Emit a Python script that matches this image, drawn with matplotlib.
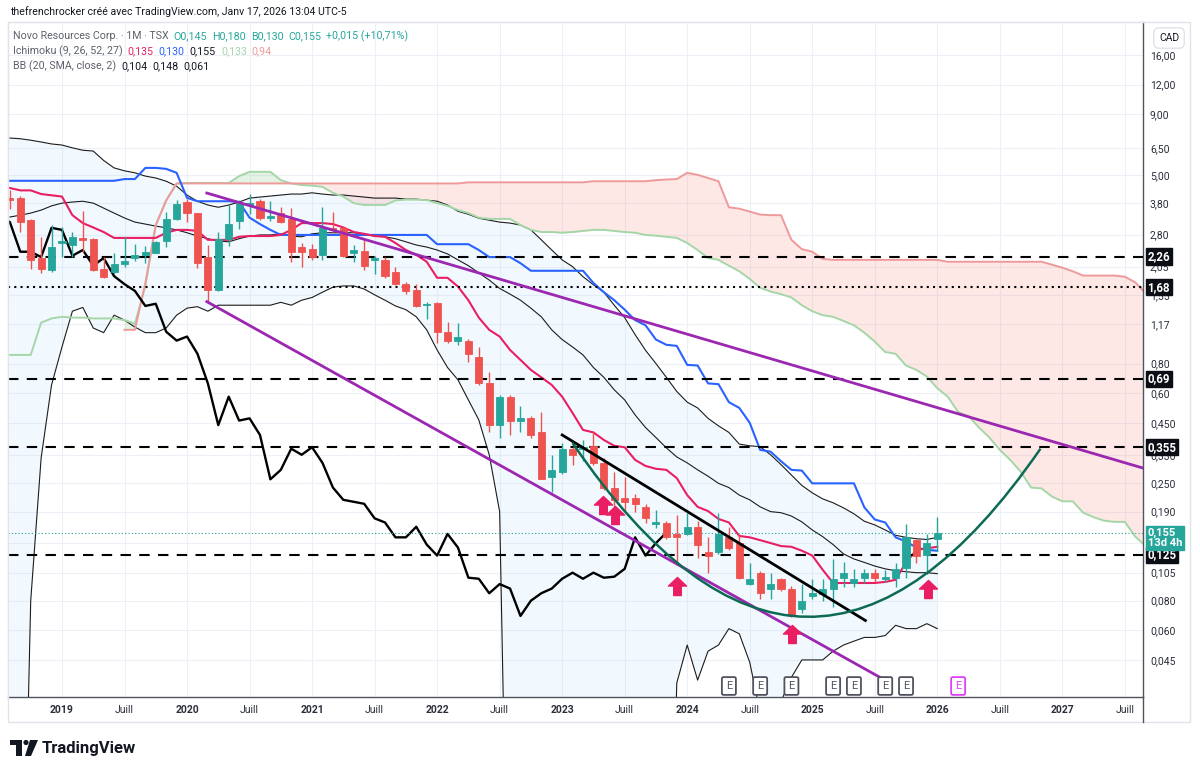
import numpy as np
import matplotlib
matplotlib.use("Agg")
import matplotlib.pyplot as plt
from matplotlib.path import Path
from matplotlib.patches import PathPatch, Rectangle, Polygon, Circle
from matplotlib.lines import Line2D
from matplotlib.ticker import NullLocator, NullFormatter
from matplotlib.transforms import IdentityTransform, blended_transform_factory

plt.rcParams['font.family'] = ['Roboto', 'DejaVu Sans']

# month index: 0 = Jan 2019, candles Aug 2018 .. Jan 2026
first_month = -5
opens = [3.98, 3.98, 3.22, 2.23, 1.98,
         2.58, 2.54, 2.72, 2.69, 2.01, 1.94, 2.10, 2.23, 2.30, 2.35, 2.64, 3.25,
         3.83, 3.44, 2.25, 1.64, 2.69, 3.19, 3.73, 3.87, 3.30, 3.44, 3.25, 2.48,
         2.43, 2.30, 2.99, 2.99, 2.35, 2.39, 2.19, 2.19, 1.94, 1.73, 1.64, 1.41,
         1.44, 1.09, 1.00, 1.00, 0.85, 0.66, 0.44, 0.58, 0.46, 0.47, 0.41, 0.265,
         0.28, 0.35, 0.35, 0.36, 0.305, 0.24, 0.216, 0.216, 0.199, 0.169, 0.17, 0.153,
         0.153, 0.164, 0.128, 0.128, 0.148, 0.14, 0.094, 0.105, 0.09, 0.099, 0.09, 0.074,
         0.084, 0.085, 0.09, 0.10, 0.095, 0.10, 0.105, 0.099, 0.10, 0.11, 0.144, 0.125, 0.145]
highs = [4.30, 4.06, 3.25, 2.74, 3.07,
         3.00, 2.87, 3.51, 2.72, 2.25, 2.35, 2.74, 2.56, 2.51, 2.63, 3.48, 3.91,
         3.95, 3.46, 2.53, 2.87, 3.72, 3.90, 4.14, 3.95, 3.87, 3.65, 3.62, 2.58,
         2.56, 3.65, 3.48, 3.02, 2.53, 2.66, 2.28, 2.25, 2.05, 1.77, 1.74, 1.46,
         1.46, 1.20, 1.19, 1.02, 0.94, 0.74, 0.59, 0.59, 0.53, 0.48, 0.50, 0.33,
         0.37, 0.355, 0.38, 0.41, 0.32, 0.28, 0.266, 0.225, 0.205, 0.193, 0.173, 0.184,
         0.187, 0.173, 0.148, 0.187, 0.164, 0.153, 0.115, 0.107, 0.105, 0.10, 0.092, 0.094,
         0.099, 0.099, 0.12, 0.116, 0.109, 0.109, 0.109, 0.108, 0.115, 0.168, 0.146, 0.153, 0.180]
lows = [3.60, 2.87, 2.01, 1.92, 1.94,
        2.25, 2.25, 2.37, 1.96, 1.83, 1.90, 2.05, 2.17, 2.12, 2.33, 2.48, 3.22,
        3.16, 2.03, 1.44, 1.62, 2.51, 2.96, 3.41, 3.22, 3.19, 3.13, 2.15, 2.05,
        2.19, 2.19, 2.85, 2.25, 2.15, 1.98, 1.90, 1.83, 1.71, 1.57, 1.38, 1.23,
        0.98, 0.98, 0.96, 0.81, 0.65, 0.41, 0.39, 0.40, 0.41, 0.39, 0.26, 0.23,
        0.275, 0.30, 0.31, 0.30, 0.235, 0.193, 0.19, 0.19, 0.17, 0.162, 0.146, 0.113,
        0.151, 0.121, 0.105, 0.126, 0.131, 0.099, 0.093, 0.081, 0.081, 0.088, 0.068, 0.071,
        0.081, 0.08, 0.075, 0.091, 0.091, 0.095, 0.096, 0.096, 0.091, 0.10, 0.115, 0.104, 0.130]
closes = [3.90, 3.16, 2.19, 2.01, 2.48,
          2.63, 2.74, 2.66, 1.98, 1.85, 2.10, 2.17, 2.30, 2.36, 2.61, 3.25, 3.76,
          3.44, 2.12, 1.64, 2.69, 3.10, 3.80, 3.82, 3.30, 3.35, 3.16, 2.37, 2.37,
          2.25, 2.99, 2.93, 2.28, 2.41, 2.07, 2.23, 1.87, 1.73, 1.62, 1.40, 1.43,
          1.09, 1.00, 1.04, 0.88, 0.66, 0.44, 0.58, 0.46, 0.47, 0.40, 0.26, 0.285,
          0.35, 0.33, 0.355, 0.305, 0.24, 0.213, 0.209, 0.205, 0.178, 0.171, 0.148, 0.148,
          0.164, 0.138, 0.124, 0.153, 0.134, 0.10, 0.099, 0.086, 0.094, 0.09, 0.069, 0.080,
          0.086, 0.09, 0.099, 0.105, 0.099, 0.105, 0.10, 0.101, 0.109, 0.148, 0.124, 0.140, 0.155]

# Ichimoku (9, 26, 52, 27)
tenkan = [4.40, 4.30, 4.30, 4.15, 4.10,
          4.05, 3.38, 3.13, 3.00, 2.87, 2.71, 2.71, 2.71, 2.71, 2.71, 2.85, 2.93,
          2.93, 2.90, 2.66, 2.66, 2.66, 2.74, 2.76, 2.76, 2.76, 2.79, 2.93, 3.13,
          3.13, 3.13, 3.10, 3.00, 2.87, 2.82, 2.76, 2.74, 2.58, 2.41, 2.30, 2.15,
          1.84, 1.84, 1.69, 1.48, 1.25, 1.11, 1.04, 0.913, 0.829, 0.752, 0.70, 0.65,
          0.58, 0.495, 0.42, 0.41, 0.381, 0.36, 0.355, 0.314, 0.296, 0.288, 0.285, 0.263,
          0.223, 0.199, 0.191, 0.177, 0.171, 0.150, 0.148, 0.144, 0.140, 0.136, 0.135, 0.130,
          0.124, 0.108, 0.095, 0.095, 0.095, 0.095, 0.095, 0.096, 0.098, 0.116, 0.131, 0.133, 0.135]
kijun = [4.72, 4.72, 4.72, 4.72, 4.72,
         4.72, 4.72, 4.72, 4.72, 4.72, 4.72, 4.80, 4.80, 5.35, 5.35, 5.30, 5.10,
         4.00, 3.87, 3.87, 3.87, 3.87, 3.84, 3.30, 3.10, 2.93, 2.79, 2.79, 2.79,
         2.79, 2.79, 2.79, 2.79, 2.79, 2.79, 2.79, 2.79, 2.79, 2.79, 2.79, 2.79,
         2.55, 2.55, 2.55, 2.55, 2.41, 2.25, 2.25, 2.25, 2.12, 1.97, 1.97, 1.97,
         1.97, 1.97, 1.97, 1.75, 1.60, 1.48, 1.35, 1.22, 1.16, 1.01, 0.96, 0.95,
         0.79, 0.785, 0.66, 0.655, 0.55, 0.52, 0.45, 0.346, 0.34, 0.31, 0.285, 0.283,
         0.25, 0.25, 0.25, 0.25, 0.25, 0.198, 0.176, 0.171, 0.148, 0.142, 0.134, 0.131, 0.130]
# leading spans, months -5 .. 105 (span B from month 6)
span_a = [0.87, 0.87, 0.87, 1.19, 1.24,
          1.26, 1.25, 1.25, 1.24, 1.24, 1.24, 1.22, 1.18, 1.70, 3.07, 3.90, 4.60,
          4.62, 4.62, 4.62, 4.62, 4.62, 4.94, 5.15, 5.15, 5.15, 4.75, 4.60, 4.53,
          4.50, 4.45, 4.20, 4.05, 3.80, 3.73, 3.73, 3.73, 3.90, 3.93, 3.93, 3.91,
          3.80, 3.70, 3.55, 3.45, 3.30, 3.26, 3.26, 3.26, 3.07, 2.93, 2.87, 2.87,
          2.85, 2.87, 2.90, 2.93, 2.93, 2.90, 2.87, 2.85, 2.79, 2.77, 2.74, 2.71,
          2.58, 2.41, 2.23, 2.19, 2.07, 1.96, 1.82, 1.67, 1.61, 1.57, 1.52, 1.41,
          1.33, 1.28, 1.26, 1.21, 1.16, 1.08, 0.99, 0.895, 0.88, 0.785, 0.752, 0.705,
          0.63, 0.58, 0.50, 0.48, 0.43, 0.39, 0.346, 0.314, 0.28, 0.24, 0.238, 0.22,
          0.21, 0.21, 0.188, 0.18, 0.174, 0.172, 0.172, 0.149, 0.136, 0.125]
span_b = [1.11, 1.11, 1.75, 3.07, 3.90, 4.60,
          4.60, 4.60, 4.60, 4.60, 4.60, 4.60, 4.60, 4.60, 4.60, 4.60, 4.60, 4.60,
          4.60, 4.60, 4.60, 4.60, 4.60, 4.60, 4.60, 4.60, 4.60, 4.60, 4.60, 4.60,
          4.60, 4.60, 4.60, 4.65, 4.65, 4.65, 4.65, 4.65, 4.65, 4.65, 4.65, 4.65,
          4.65, 4.65, 4.65, 4.70, 4.70, 4.70, 4.70, 4.70, 4.70, 4.75, 4.78, 4.80,
          5.10, 5.00, 4.85, 4.70, 3.65, 3.60, 3.50, 3.40, 3.38, 3.38, 2.66, 2.43,
          2.37, 2.21, 2.19, 2.19, 2.19, 2.19, 2.19, 2.19, 2.19, 2.19, 2.19, 2.19,
          2.19, 2.15, 2.15, 2.15, 2.15, 2.15, 2.15, 2.15, 2.15, 2.15, 2.15, 2.09,
          2.03, 1.96, 1.88, 1.88, 1.88, 1.88, 1.86, 1.76, 1.58, 1.45]

# Bollinger (20, SMA, close, 2)
bb_upper = [7.15, 7.10, 7.00, 6.88, 6.75,
            6.68, 6.50, 6.35, 6.30, 5.75, 5.35, 5.20, 5.10, 4.94, 4.85, 4.70, 4.48,
            4.11, 3.87, 3.73, 3.65, 3.73, 3.84, 3.99, 4.03, 4.07, 4.11, 4.15, 4.15,
            4.20, 4.15, 4.11, 4.11, 4.07, 4.03, 3.99, 3.99, 3.99, 3.95, 3.95, 3.91,
            3.87, 3.73, 3.51, 3.41, 3.28, 3.22, 3.16, 3.13, 3.07, 2.93, 2.66, 2.41,
            2.19, 2.05, 1.86, 1.72, 1.60, 1.41, 1.25, 1.06, 0.91, 0.80, 0.70, 0.61,
            0.55, 0.52, 0.47, 0.437, 0.41, 0.366, 0.36, 0.357, 0.33, 0.30, 0.271, 0.245,
            0.228, 0.215, 0.207, 0.197, 0.186, 0.173, 0.167, 0.159, 0.151, 0.148, 0.146, 0.145, 0.148]
bb_basis = [3.32, 3.38, 3.45, 3.55, 3.70,
            3.80, 3.84, 3.87, 3.80, 3.62, 3.45, 3.29, 3.16, 3.10, 3.04, 2.99, 2.93,
            2.85, 2.76, 2.69, 2.63, 2.61, 2.69, 2.76, 2.79, 2.79, 2.82, 2.76, 2.74,
            2.82, 2.85, 2.85, 2.85, 2.85, 2.82, 2.76, 2.74, 2.69, 2.61, 2.53, 2.48,
            2.41, 2.32, 2.19, 2.07, 1.93, 1.80, 1.66, 1.57, 1.48, 1.37, 1.26, 1.11,
            1.01, 0.94, 0.87, 0.77, 0.70, 0.62, 0.562, 0.486, 0.43, 0.39, 0.353, 0.323,
            0.305, 0.285, 0.268, 0.25, 0.24, 0.223, 0.213, 0.199, 0.19, 0.188, 0.182, 0.172,
            0.159, 0.149, 0.138, 0.126, 0.12, 0.116, 0.112, 0.109, 0.107, 0.106, 0.105, 0.105, 0.104]
bb_lower = [0.001, 0.001, 0.08, 0.32, 0.65,
            0.94, 1.33, 1.38, 1.13, 1.08, 1.28, 1.22, 1.14, 1.08, 1.08, 1.13, 1.28,
            1.37, 1.39, 1.33, 1.41, 1.41, 1.41, 1.41, 1.41, 1.41, 1.45, 1.41, 1.48,
            1.52, 1.60, 1.68, 1.70, 1.70, 1.65, 1.56, 1.48, 1.40, 1.35, 1.26, 1.11,
            0.913, 0.77, 0.683, 0.562, 0.463, 0.33, 0.19, 0.001, 0.001, 0.001, 0.001, 0.001,
            0.001, 0.001, 0.001, 0.001, 0.001, 0.001, 0.001, 0.001, 0.001, 0.001, 0.001, 0.036,
            0.052, 0.037, 0.049, 0.052, 0.061, 0.058, 0.044, 0.027, 0.001, 0.03, 0.038, 0.045,
            0.045, 0.045, 0.049, 0.052, 0.054, 0.056, 0.056, 0.057, 0.063, 0.061, 0.061, 0.064, 0.061]

# drawings (month, price)
purple_top = ([13.9, 103.74], [4.19, 0.29])
purple_low = ([13.9, 78.5], [1.46, 0.038])
black_trend = ([48.0, 77.1], [0.40, 0.066])
arc_pts = [(49.0, 0.37), (71.5, 0.013), (93.9, 0.35)]
arrow_months = [51.9, 53.1, 59.0, 70.1, 83.1]
arrow_prices = [0.203, 0.183, 0.092, 0.058, 0.090]
earnings = [64, 67, 70, 74, 76, 79, 81]
earnings_next = [86]
dashed_levels = [2.26, 0.69, 0.355, 0.125]
dotted_levels = [1.68]
level_labels = ['2,26', '1,68', '0,69', '0,355', '0,125']
last_price = 0.155

# 0,140 sits under the last-price tag, so its label is left empty
y_ticks = [0.045, 0.060, 0.080, 0.105, 0.140, 0.190, 0.250, 0.330, 0.450, 0.60, 0.80,
           1.17, 1.55, 2.05, 2.80, 3.80, 5.00, 6.50, 9.00, 12.00, 16.00]
y_tick_labels = ['0,045', '0,060', '0,080', '0,105', '', '0,190', '0,250', '0,330', '0,450',
                 '0,60', '0,80', '1,17', '1,55', '2,05', '2,80', '3,80', '5,00', '6,50', '9,00',
                 '12,00', '16,00']
x_ticks = [0, 6, 12, 18, 24, 30, 36, 42, 48, 54, 60, 66, 72, 78, 84, 90, 96, 102]
x_tick_labels = ['2019', 'Juill', '2020', 'Juill', '2021', 'Juill', '2022', 'Juill', '2023',
                 'Juill', '2024', 'Juill', '2025', 'Juill', '2026', 'Juill', '2027', 'Juill']

UP, DOWN = '#26a69a', '#ef5350'
W, H = 1200, 774

fig = plt.figure(figsize=(W / 100, H / 100), dpi=100)
ax = fig.add_axes([8 / W, 1 - 697 / H, 1135 / W, 675 / H])
ax.set_yscale('log')

months = np.arange(first_month, first_month + len(closes))
o, h, l, c = (np.array(v) for v in (opens, highs, lows, closes))

# Bollinger bands
ax.fill_between(months, bb_lower, bb_upper, color='#2196f3', alpha=0.055, lw=0, zorder=1)
for band in (bb_upper, bb_basis, bb_lower):
    ax.plot(months, band, color='#1c1c1c', lw=0.8, zorder=2)

# Ichimoku cloud
a_months = np.arange(first_month, first_month + len(span_a))
b_months = np.arange(6, 6 + len(span_b))
a_arr = np.array(span_a)
b_arr = np.array(span_b)
a_on_b = a_arr[a_months >= 6]
ax.fill_between(b_months, a_on_b, b_arr, where=b_arr >= a_on_b, interpolate=True,
                color='#f44336', alpha=0.12, lw=0, zorder=1.2)
ax.fill_between(b_months, a_on_b, b_arr, where=a_on_b > b_arr, interpolate=True,
                color='#4caf50', alpha=0.15, lw=0, zorder=1.2)
ax.plot(a_months, span_a, color='#a5d6a7', lw=1.4, zorder=2)
ax.plot(b_months, span_b, color='#ef9a9a', lw=1.4, zorder=2)
ax.plot(months, kijun, color='#2962ff', lw=1.5, zorder=2.5)
ax.plot(months, tenkan, color='#e91e63', lw=1.5, zorder=2.5)
ax.plot(months - 26, closes, color='black', lw=1.7, zorder=2.5)

# levels
for v in dashed_levels:
    ax.axhline(v, color='black', lw=1.5, ls=(0, (5, 4)), zorder=3)
for v in dotted_levels:
    ax.axhline(v, color='black', lw=1.5, ls=(0, (1, 2)), zorder=3)
ax.axhline(last_price, color=UP, lw=0.8, ls=(0, (1, 2)), zorder=3)

# candles
cols = np.where(c >= o, UP, DOWN)
ax.vlines(months, l, h, colors=cols, lw=1, zorder=4)
ax.bar(months, np.abs(c - o), bottom=np.minimum(o, c), width=0.68, color=cols,
       edgecolor=cols, linewidth=0.6, zorder=4.1)

# drawings
ax.plot(*purple_top, color='#9c27b0', lw=2, zorder=5)
ax.plot(*purple_low, color='#9c27b0', lw=2, zorder=5)
ax.plot(*black_trend, color='black', lw=2, zorder=5)
arc = Path(arc_pts, [Path.MOVETO, Path.CURVE3, Path.CURVE3])
ax.add_patch(PathPatch(arc, fc='none', ec='#0d6b55', lw=1.8, zorder=5))

arrow = Path([(0, 1), (1, 0.05), (0.42, 0.05), (0.42, -1), (-0.42, -1), (-0.42, 0.05),
              (-1, 0.05), (0, 1)], closed=True)
ax.plot(arrow_months, arrow_prices, ls='none', marker=arrow, ms=13,
        color='#e91e63', mec='#e91e63', zorder=6)

# earnings markers
ev = blended_transform_factory(ax.transData, ax.transAxes)
for m in earnings:
    ax.text(m, 0.0163, 'E', transform=ev, ha='center', va='center', fontsize=8,
            color='#50535e', zorder=7,
            bbox=dict(boxstyle='round,pad=0.35,rounding_size=0.15', fc='white', ec='#50535e', lw=1.3))
for m in earnings_next:
    ax.text(m, 0.0163, 'E', transform=ev, ha='center', va='center', fontsize=8,
            color='#e040fb', zorder=7,
            bbox=dict(boxstyle='round,pad=0.35,rounding_size=0.15', fc='white', ec='#e040fb', lw=1.3))

# axes
ax.set_xlim(-5.18, 103.74)
ax.set_ylim(0.0314, 22.06)
ax.yaxis.tick_right()
ax.set_yticks(y_ticks, y_tick_labels)
ax.yaxis.set_minor_locator(NullLocator())
ax.yaxis.set_minor_formatter(NullFormatter())
ax.set_xticks(x_ticks, x_tick_labels)
for lbl, txt in zip(ax.get_xticklabels(), x_tick_labels):
    if txt != 'Juill':
        lbl.set_fontweight('bold')
ax.tick_params(axis='y', length=0, pad=5, labelsize=7.5, labelcolor='#2a2e39')
ax.tick_params(axis='x', length=0, pad=6, labelsize=7.5, labelcolor='#2a2e39')
ax.grid(True, color='#edf1f7', lw=0.8)
ax.set_axisbelow(True)
for side in ('top', 'left'):
    ax.spines[side].set_color('#e0e3eb')
for side in ('right', 'bottom'):
    ax.spines[side].set_color('#50535e')
    ax.spines[side].set_linewidth(1)

# price scale labels
pv = blended_transform_factory(ax.transAxes, ax.transData)
for v, txt in zip(sorted(dashed_levels + dotted_levels, reverse=True), level_labels):
    ax.text(1.004, v, txt, transform=pv, ha='left', va='center', fontsize=8.3,
            fontweight='bold', color='white', zorder=10, clip_on=False,
            bbox=dict(boxstyle='square,pad=0.15', fc='#0c0e15', ec='#0c0e15'))
ax.annotate('0,155\n13d 4h', xy=(1.004, last_price), xycoords=pv, xytext=(0, -4),
            textcoords='offset points', ha='left', va='center', fontsize=8,
            fontweight='bold', color='white', linespacing=1.0, annotation_clip=False,
            zorder=10, bbox=dict(boxstyle='square,pad=0.15', fc=UP, ec=UP))

# frame, CAD box
px = IdentityTransform()
fig.add_artist(Rectangle((8, H - 722), 1182, 700, transform=px, fill=False, ec='#e0e3eb', lw=1))
fig.add_artist(Line2D([1143, 1143], [H - 722, H - 697], transform=px, color='#50535e', lw=1))
fig.text(1169, H - 38, 'CAD', transform=px, ha='center', va='center', fontsize=7.5,
         color='#131722', bbox=dict(boxstyle='round,pad=0.5', fc='white', ec='#e0e3eb'))


def write_row(x, y, parts, size=7.7):
    r = fig.canvas.get_renderer()
    for txt, col in parts:
        t = fig.text(x, H - y, txt, transform=px, color=col, fontsize=size,
                     ha='left', va='center')
        x += t.get_window_extent(r).width + 5


GREY = '#5d606b'
write_row(10, 12, [('thefrenchrocker créé avec TradingView.com, Janv 17, 2026 13:04 UTC-5', '#131722')], 7.6)
write_row(13, 36, [('Novo Resources Corp. · 1M · TSX', GREY), ('O0,145', UP), ('H0,180', UP),
                   ('B0,130', UP), ('C0,155', UP), ('+0,015 (+10,71%)', UP)])
write_row(13, 51, [('Ichimoku (9, 26, 52, 27)', GREY), ('0,135', '#e91e63'), ('0,130', '#2962ff'),
                   ('0,155', '#131722'), ('0,133', '#a5d6a7'), ('0,94', '#ef9a9a')])
write_row(13, 66, [('BB (20, SMA, close, 2)', GREY), ('0,104', '#131722'), ('0,148', '#131722'),
                   ('0,061', '#131722')])

# TradingView logo
fig.add_artist(Polygon([(10, H - 740), (22, H - 740), (22, H - 756), (16, H - 756),
                        (16, H - 745), (10, H - 745)], closed=True, transform=px,
                       fc='#131722', ec='none'))
fig.add_artist(Circle((26, H - 742.5), 2.6, transform=px, fc='#131722', ec='none'))
fig.add_artist(Polygon([(30, H - 740), (38, H - 740), (31, H - 756), (25, H - 756)],
                       closed=True, transform=px, fc='#131722', ec='none'))
fig.text(42, H - 748, 'TradingView', transform=px, ha='left', va='center', fontsize=12,
         fontweight='bold', color='#131722')

fig.savefig('out.png', dpi=100)
